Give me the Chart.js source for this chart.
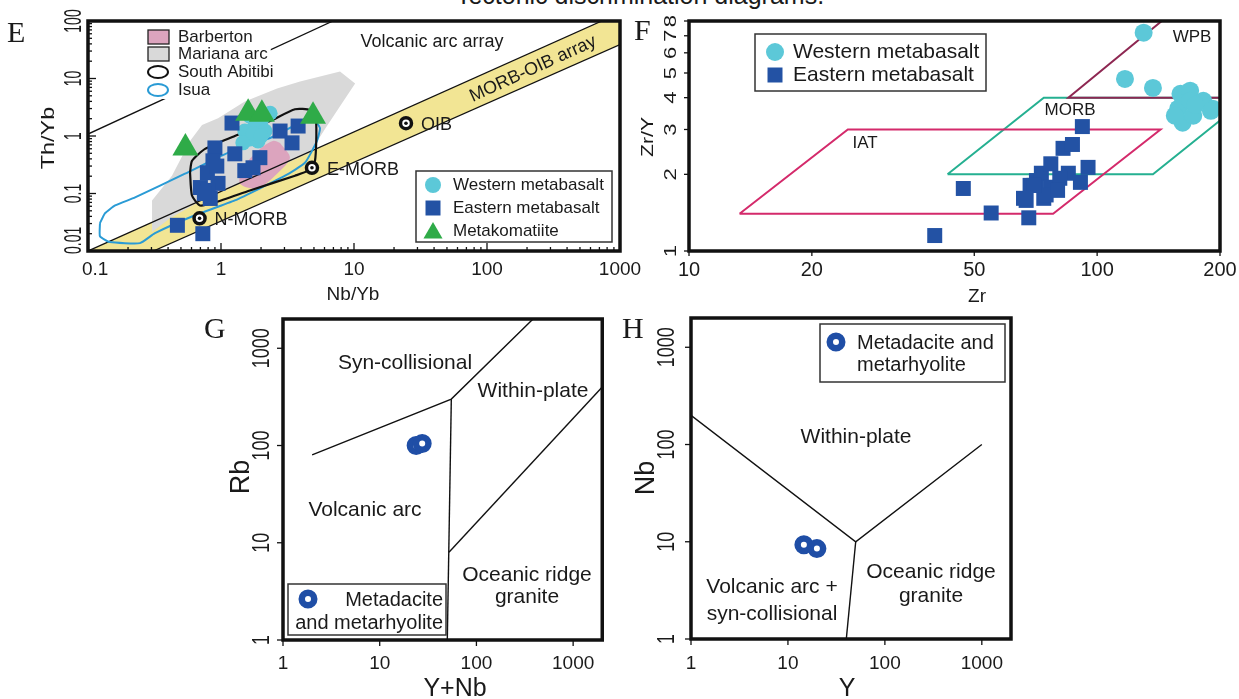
<!DOCTYPE html>
<html>
<head>
<meta charset="utf-8">
<title>Tectonic discrimination diagrams</title>
<script src="https://cdn.jsdelivr.net/npm/chart.js@4.4.1/dist/chart.umd.min.js"></script>
<style>
  html, body { margin: 0; padding: 0; background: #fff; }
  body { width: 1239px; height: 699px; position: relative; overflow: hidden; font-family: "Liberation Sans", Arial, sans-serif; color: #1a1a1a; }
  canvas { position: absolute; }
  .letter { position: absolute; font-family: "Liberation Serif", "Times New Roman", serif; font-size: 30px; line-height: 30px; }
  #title { position: absolute; left: 0; width: 1280px; top: -17px; text-align: center; font-size: 25px; line-height: 25px; }
</style>
</head>
<body>
<div id="title">Tectonic discrimination diagrams.</div>
<canvas id="chartE" width="650" height="310" style="left:0px;top:0px"></canvas>
<canvas id="chartF" width="609" height="310" style="left:630px;top:0px"></canvas>
<canvas id="chartG" width="415" height="394" style="left:200px;top:305px"></canvas>
<canvas id="chartH" width="410" height="394" style="left:615px;top:305px"></canvas>
<div class="letter" style="left:7px;top:17px">E</div>
<div class="letter" style="left:634px;top:15px">F</div>
<div class="letter" style="left:204px;top:313px">G</div>
<div class="letter" style="left:622px;top:313px">H</div>
<script>
const FONT = '"Liberation Sans", Arial, sans-serif';
const CYAN = '#5cc8d8';
const BLUE = '#2352a4';
const GREEN = '#2fab48';
const RING = '#1f4ea6';

// ---------- E : Th/Yb vs Nb/Yb ----------
const eXTicks = [0.1, 1, 10, 100, 1000];
const eXLabels = ['0.1', '1', '10', '100', '1000'];
const eYTicks = [0.01, 0.1, 1, 10, 100];
const eYLabels = ['0.01', '0.1', '1', '10', '100'];
const eWestern = [[1.65, 2.21], [2.03, 1.96], [1.80, 1.49], [1.51, 1.22], [2.14, 1.22], [1.65, 0.89],
  [1.90, 0.82], [1.46, 0.76], [2.34, 2.49], [1.75, 1.10], [2.00, 1.00]];
const eEastern = [[0.47, 0.028], [0.73, 0.020], [1.21, 1.68], [0.90, 0.62], [0.87, 0.37], [0.79, 0.23],
  [0.70, 0.127], [0.95, 0.15], [0.83, 0.082], [0.80, 0.113], [1.27, 0.49], [1.51, 0.25], [1.96, 0.42],
  [1.74, 0.28], [2.78, 1.22], [3.42, 0.76], [3.80, 1.49], [0.93, 0.30], [0.75, 0.10]];
const eKomatiite = [[0.54, 0.62], [1.60, 2.49], [2.03, 2.39], [4.92, 2.21]];
const eRefNames = ['N-MORB', 'E-MORB', 'OIB'];
const eRefNb = [0.69, 4.83, 24.6];
const eRefTh = [0.037, 0.28, 1.67];
const eMorbOib = [[0.1, 0.01], [730, 100], [1000, 100], [1000, 39], [0.31, 0.01]];
const eMorbOibUpper = [[0.1, 0.01], [730, 100]];
const eMorbOibLower = [[0.31, 0.01], [1000, 39]];
const eArcLine = [[0.1, 1.08], [6.95, 100]];
const eMariana = [[0.303, 0.0213], [0.303, 0.0757], [0.428, 0.204], [0.585, 0.82], [0.72, 1.55], [0.95, 2.04],
  [1.51, 4.0], [2.64, 6.73], [3.93, 8.88], [7.85, 13.2], [10.2, 8.2], [7.85, 3.29], [6.05, 1.32], [4.67, 0.51],
  [1.65, 0.177], [0.695, 0.073], [0.414, 0.037]];
const eBarberton = [[2.78, 0.757], [3.30, 0.418], [2.64, 0.221], [1.87, 0.122], [1.39, 0.149], [1.46, 0.281],
  [1.96, 0.597], [2.46, 0.82]];
const eAbitibi = [[0.585, 0.230], [0.605, 0.0924], [0.695, 0.062], [0.90, 0.07], [1.65, 0.113], [3.6, 0.204],
  [4.51, 0.249], [5.09, 0.37], [5.18, 1.82], [4.67, 2.81], [3.6, 2.92], [2.34, 1.82], [1.27, 1.0], [0.759, 0.597],
  [0.605, 0.37]];
const eIsua = [[0.123, 0.0304], [0.123, 0.0181], [0.146, 0.0143], [0.246, 0.0137], [0.319, 0.0204], [0.638, 0.0418],
  [1.27, 0.0757], [3.03, 0.204], [4.28, 0.342], [5.27, 0.82], [5.55, 1.37], [5.09, 1.82], [3.93, 1.68], [2.34, 0.924],
  [1.21, 0.551], [0.536, 0.221], [0.226, 0.0853], [0.16, 0.062], [0.134, 0.0452]];

// ---------- F : Zr/Y vs Zr ----------
const fXTicks = [10, 20, 50, 100, 200];
const fXLabels = ['10', '20', '50', '100', '200'];
const fYTicks = [1, 2, 3, 4, 5, 6, 7, 8];
const fYLabels = ['1', '2', '3', '4', '5', '6', '7', '8'];
const fWestern = [[130, 7.2], [117, 4.74], [137, 4.37], [167, 4.14], [160, 4.14], [169, 4.26], [182, 3.89],
  [192, 3.62], [158, 3.62], [162, 3.19], [169, 3.89], [172, 3.4], [155, 3.4], [190, 3.55], [174, 3.75]];
const fEastern = [[40, 1.15], [47, 1.76], [55, 1.41], [68, 1.35], [67, 1.58], [68.5, 1.81], [71, 1.89], [73, 2.02],
  [77, 2.2], [74, 1.61], [77, 1.78], [85, 2.02], [91, 1.86], [95, 2.13], [82.5, 2.53], [87, 2.62], [92, 3.08],
  [75, 1.66], [70, 1.81], [66, 1.61], [81, 1.93], [80, 1.73]];
const fIAT = [[13.3, 1.4], [24.5, 3.0], [143, 3.0], [78, 1.4]];
const fMORB = [[43, 2], [74, 4], [235, 4], [137, 2]];
const fWPB = [[144, 8], [85, 4], [210, 4]];

// ---------- G : Rb vs Y+Nb ----------
const gTicks = [1, 10, 100, 1000];
const gLabels = ['1', '10', '100', '1000'];
const gSamples = [[23.8, 100], [27.5, 105]];
const gArcUpper = [[2, 80], [55, 300], [385, 2000]];
const gArcRight = [[55, 300], [50, 1]];
const gWithinLower = [[52, 8], [2000, 400]];

// ---------- H : Nb vs Y ----------
const hSamples = [[14.6, 9.3], [19.9, 8.5]];
const hUpper = [[1, 200], [50, 10], [1000, 100]];
const hLower = [[50, 10], [40, 1]];

// helpers
const pts = arr => arr.map(([x, y]) => ({ x, y }));
const closed = arr => pts(arr.concat([arr[0]]));

function points(data, style, r, color, extra) {
  return Object.assign({ type: 'scatter', data: pts(data), pointStyle: style, pointRadius: r, pointHoverRadius: r,
    pointBackgroundColor: color, pointBorderWidth: 0 }, extra || {});
}
function path(data, color, width, extra) {
  return Object.assign({ type: 'line', data: pts(data), borderColor: color, borderWidth: width, pointRadius: 0,
    pointHoverRadius: 0, fill: false, tension: 0 }, extra || {});
}
function outline(data, color, width, tension) {
  return { type: 'line', data: closed(data), borderColor: color, borderWidth: width, pointRadius: 0,
    pointHoverRadius: 0, fill: false, tension: tension || 0 };
}
function area(data, color, tension) {
  return { type: 'line', data: closed(data), borderColor: 'rgba(0,0,0,0)', borderWidth: 0, backgroundColor: color,
    fill: 'shape', pointRadius: 0, pointHoverRadius: 0, tension: tension || 0 };
}
function minors(from, to) {
  const out = [];
  for (let d = from; d < to; d *= 10) for (let k = 2; k <= 9; k++) out.push(d * k);
  return out;
}

function txt(ctx, s, x, y, o) {
  o = o || {};
  ctx.save();
  ctx.translate(x, y);
  if (o.rot) ctx.rotate(o.rot * Math.PI / 180);
  ctx.scale(o.sx || 1, o.sy || 1);
  ctx.font = (o.size || 17) + 'px ' + FONT;
  ctx.fillStyle = o.color || '#1a1a1a';
  ctx.textAlign = o.align || 'center';
  ctx.textBaseline = o.base || 'middle';
  ctx.fillText(s, 0, 0);
  ctx.restore();
}
function mark(ctx, kind, x, y, r, color) {
  ctx.save();
  ctx.beginPath();
  if (kind === 'ring') {
    ctx.arc(x, y, r, 0, Math.PI * 2);
    ctx.fillStyle = '#fff';
    ctx.fill();
    ctx.lineWidth = 6.5;
    ctx.strokeStyle = color;
    ctx.stroke();
    ctx.restore();
    return;
  }
  if (kind === 'circle') ctx.arc(x, y, r, 0, Math.PI * 2);
  if (kind === 'rect') ctx.rect(x - r, y - r, 2 * r, 2 * r);
  if (kind === 'triangle') {
    ctx.moveTo(x, y - r);
    ctx.lineTo(x + r * 0.866, y + r / 2);
    ctx.lineTo(x - r * 0.866, y + r / 2);
    ctx.closePath();
  }
  ctx.fillStyle = color;
  ctx.fill();
  ctx.restore();
}
function box(ctx, x1, y1, x2, y2) {
  ctx.save();
  ctx.fillStyle = '#fff';
  ctx.fillRect(x1, y1, x2 - x1, y2 - y1);
  ctx.strokeStyle = '#333';
  ctx.lineWidth = 1.5;
  ctx.strokeRect(x1, y1, x2 - x1, y2 - y1);
  ctx.restore();
}

// frame, ticks, tick labels, titles and notes; page coords are shifted by the canvas offset
function decor(p) {
  return {
    id: 'decor',
    afterDatasetsDraw(chart) {
      const ctx = chart.ctx, a = chart.chartArea;
      const xs = chart.scales.x, ys = chart.scales.y;
      const dir = p.tickDir === 'in' ? -1 : 1;
      ctx.save();
      ctx.strokeStyle = '#111';
      ctx.lineWidth = 1.3;
      const tick = (v, len, isX) => {
        ctx.beginPath();
        if (isX) {
          const px = xs.getPixelForValue(v);
          ctx.moveTo(px, a.bottom);
          ctx.lineTo(px, a.bottom + dir * len);
        } else {
          const py = ys.getPixelForValue(v);
          ctx.moveTo(a.left, py);
          ctx.lineTo(a.left - dir * len, py);
        }
        ctx.stroke();
      };
      p.xTicks.forEach(v => tick(v, p.tickLen, true));
      p.yTicks.forEach(v => tick(v, p.tickLen, false));
      (p.xMinor || []).forEach(v => tick(v, p.minorLen, true));
      (p.yMinor || []).forEach(v => tick(v, p.minorLen, false));
      ctx.lineWidth = p.frame;
      ctx.strokeRect(a.left, a.top, a.right - a.left, a.bottom - a.top);
      ctx.restore();

      p.xTicks.forEach((v, i) => {
        let px = xs.getPixelForValue(v);
        ctx.font = p.xSize + 'px ' + FONT;
        const w = ctx.measureText(p.xLabels[i]).width;
        if (p.clampX != null) px = Math.max(px, a.left - p.clampX + w / 2);
        txt(ctx, p.xLabels[i], px, p.xLabelY - p.top, { size: p.xSize });
      });
      p.yTicks.forEach((v, i) => {
        let py = ys.getPixelForValue(v);
        ctx.font = p.ySize + 'px ' + FONT;
        const w = ctx.measureText(p.yLabels[i]).width * (p.ySx || 1);
        if (p.clampY != null) py = Math.min(py, a.bottom + p.clampY - w / 2);
        txt(ctx, p.yLabels[i], p.yLabelX - p.left, py, { size: p.ySize, rot: -90, sx: p.ySx, sy: p.ySy });
      });

      ctx.save();
      ctx.translate(-p.left, -p.top);
      const xt = p.xTitle, yt = p.yTitle;
      txt(ctx, xt.text, xt.x, xt.y, { size: xt.size, base: xt.base || 'middle' });
      txt(ctx, yt.text, yt.x, yt.y, { size: yt.size, rot: -90, sx: yt.sx, sy: yt.sy });
      (p.notes || []).forEach(n => txt(ctx, n.text, n.x, n.y, n));
      if (p.extraPage) p.extraPage(ctx);
      ctx.restore();
      if (p.extra) p.extra(ctx, chart);
    }
  };
}

function makeChart(id, pad, xr, yr, datasets, deco) {
  return new Chart(document.getElementById(id), {
    type: 'scatter',
    data: { datasets },
    options: {
      responsive: false,
      animation: false,
      events: [],
      layout: { padding: pad },
      plugins: { legend: { display: false }, tooltip: { enabled: false } },
      scales: {
        x: { type: 'logarithmic', min: xr[0], max: xr[1], display: false },
        y: { type: 'logarithmic', min: yr[0], max: yr[1], display: false }
      }
    },
    plugins: [decor(deco)]
  });
}

// ---------- panel E ----------
makeChart('chartE', { left: 88, top: 21, right: 30, bottom: 59 }, [0.1, 1000], [0.01, 100], [
  points(eKomatiite, 'triangle', 15, GREEN),
  points(eEastern, 'rect', 10.6, BLUE),
  points(eWestern, 'circle', 7.5, CYAN),
  points(eRefNb.map((x, i) => [x, eRefTh[i]]), 'circle', 1.8, '#111'),
  points(eRefNb.map((x, i) => [x, eRefTh[i]]), 'circle', 5.5, '#fff', { pointBorderWidth: 3.5, pointBorderColor: '#111' }),
  outline(eAbitibi, '#111', 2.2, 0.2),
  outline(eIsua, '#2a9bd5', 2, 0.15),
  path(eMorbOibUpper, '#111', 1.3),
  path(eMorbOibLower, '#111', 1.3),
  path(eArcLine, '#111', 1.3),
  area(eBarberton, '#dca4be', 0.3),
  area(eMariana, '#d9d9d9', 0),
  area(eMorbOib, '#f2e594', 0)
], {
  left: 0, top: 0, frame: 3.5, tickDir: 'in', tickLen: 8, minorLen: 4,
  xTicks: eXTicks, xLabels: eXLabels, yTicks: eYTicks, yLabels: eYLabels,
  xMinor: minors(0.1, 1000), yMinor: minors(0.01, 100),
  xSize: 19, xLabelY: 270, clampX: 6,
  ySize: 14, ySy: 1.75, yLabelX: 74, clampY: 3,
  xTitle: { text: 'Nb/Yb', x: 353, y: 295, size: 19 },
  yTitle: { text: 'Th/Yb', x: 49, y: 138, size: 18, sx: 1.3 },
  notes: [
    { text: 'Volcanic arc array', x: 432, y: 42, size: 18 },
    { text: 'MORB-OIB array', x: 533, y: 69, size: 18, rot: -24.5 }
  ],
  extra(ctx, chart) {
    const xs = chart.scales.x, ys = chart.scales.y;
    eRefNames.forEach((n, i) => {
      txt(ctx, n, xs.getPixelForValue(eRefNb[i]) + 15, ys.getPixelForValue(eRefTh[i]) + 2, { size: 18, align: 'left' });
    });
    // upper-left legend (white text boxes hide the arc line)
    const rows = [['Barberton', 37], ['Mariana arc', 54], ['South Abitibi', 72], ['Isua', 90]];
    ctx.font = '17px ' + FONT;
    rows.forEach(([t, y]) => {
      const w = ctx.measureText(t).width;
      ctx.fillStyle = '#fff';
      ctx.fillRect(144, y - 9, 178 + w + 3 - 144, 18);
    });
    ctx.save();
    ctx.lineWidth = 1.3;
    ctx.strokeStyle = '#222';
    ctx.fillStyle = '#dca4be';
    ctx.fillRect(148, 30, 21, 14); ctx.strokeRect(148, 30, 21, 14);
    ctx.fillStyle = '#d9d9d9';
    ctx.fillRect(148, 47, 21, 14); ctx.strokeRect(148, 47, 21, 14);
    ctx.lineWidth = 2;
    ctx.strokeStyle = '#111';
    ctx.beginPath(); ctx.ellipse(158, 72, 10, 6, 0, 0, Math.PI * 2); ctx.stroke();
    ctx.strokeStyle = '#2a9bd5';
    ctx.beginPath(); ctx.ellipse(158, 90, 10, 6, 0, 0, Math.PI * 2); ctx.stroke();
    ctx.restore();
    rows.forEach(([t, y]) => txt(ctx, t, 178, y, { size: 17, align: 'left' }));
    // lower-right legend
    box(ctx, 416, 171, 612, 242);
    mark(ctx, 'circle', 433, 185, 8, CYAN);
    mark(ctx, 'rect', 433, 208, 7.5, BLUE);
    mark(ctx, 'triangle', 433, 233, 11, GREEN);
    txt(ctx, 'Western metabasalt', 453, 185, { size: 17, align: 'left' });
    txt(ctx, 'Eastern metabasalt', 453, 208, { size: 17, align: 'left' });
    txt(ctx, 'Metakomatiite', 453, 231, { size: 17, align: 'left' });
  }
});

// ---------- panel F ----------
makeChart('chartF', { left: 59, top: 21, right: 19, bottom: 59 }, [10, 200], [1, 8], [
  points(fWestern, 'circle', 9, CYAN),
  points(fEastern, 'rect', 10.6, BLUE),
  outline(fIAT, '#d42a6b', 2),
  path(fWPB, '#8e2752', 2),
  outline(fMORB, '#25b091', 2)
], {
  left: 630, top: 0, frame: 3.5, tickDir: 'out', tickLen: 5,
  xTicks: fXTicks, xLabels: fXLabels, yTicks: fYTicks, yLabels: fYLabels,
  xSize: 20, xLabelY: 270,
  ySize: 17, ySx: 1.3, yLabelX: 671,
  xTitle: { text: 'Zr', x: 977, y: 297, size: 19 },
  yTitle: { text: 'Zr/Y', x: 648, y: 137, size: 17, sx: 1.25 },
  notes: [
    { text: 'IAT', x: 865, y: 143, size: 17 },
    { text: 'MORB', x: 1070, y: 110, size: 17 },
    { text: 'WPB', x: 1192, y: 37, size: 17 }
  ],
  extraPage(ctx) {
    box(ctx, 755, 34, 986, 91);
    mark(ctx, 'circle', 775, 52, 9, CYAN);
    mark(ctx, 'rect', 775, 75, 7.5, BLUE);
    txt(ctx, 'Western metabasalt', 793, 52, { size: 21, align: 'left' });
    txt(ctx, 'Eastern metabasalt', 793, 75, { size: 21, align: 'left' });
  }
});

// ---------- panel G ----------
makeChart('chartG', { left: 83, top: 14, right: 10, bottom: 59 }, [1, 2000], [1, 2000], [
  points(gSamples, 'circle', 6.25, '#fff', { pointBorderWidth: 6.5, pointBorderColor: RING }),
  path(gArcUpper, '#111', 1.4),
  path(gArcRight, '#111', 1.4),
  path(gWithinLower, '#111', 1.4)
], {
  left: 200, top: 305, frame: 3.5, tickDir: 'out', tickLen: 6,
  xTicks: gTicks, xLabels: gLabels, yTicks: gTicks, yLabels: gLabels,
  xSize: 19, xLabelY: 664,
  ySize: 18, ySy: 1.3, yLabelX: 263,
  xTitle: { text: 'Y+Nb', x: 455, y: 696, size: 25, base: 'alphabetic' },
  yTitle: { text: 'Rb', x: 242, y: 477, size: 27 },
  notes: [
    { text: 'Syn-collisional', x: 405, y: 363, size: 21 },
    { text: 'Within-plate', x: 533, y: 391, size: 21 },
    { text: 'Volcanic arc', x: 365, y: 510, size: 21 },
    { text: 'Oceanic ridge', x: 527, y: 575, size: 21 },
    { text: 'granite', x: 527, y: 597, size: 21 }
  ],
  extraPage(ctx) {
    box(ctx, 288, 584, 446, 635);
    mark(ctx, 'ring', 308, 599, 6.25, RING);
    txt(ctx, 'Metadacite', 443, 600, { size: 20, align: 'right' });
    txt(ctx, 'and metarhyolite', 443, 623, { size: 20, align: 'right' });
  }
});

// ---------- panel H ----------
makeChart('chartH', { left: 76, top: 13, right: 14, bottom: 60 }, [1, 2000], [1, 2000], [
  points(hSamples, 'circle', 6.25, '#fff', { pointBorderWidth: 6.5, pointBorderColor: RING }),
  path(hUpper, '#111', 1.4),
  path(hLower, '#111', 1.4)
], {
  left: 615, top: 305, frame: 3.5, tickDir: 'out', tickLen: 6,
  xTicks: gTicks, xLabels: gLabels, yTicks: gTicks, yLabels: gLabels,
  xSize: 19, xLabelY: 664,
  ySize: 18, ySy: 1.3, yLabelX: 668,
  xTitle: { text: 'Y', x: 847, y: 696, size: 25, base: 'alphabetic' },
  yTitle: { text: 'Nb', x: 647, y: 478, size: 27 },
  notes: [
    { text: 'Within-plate', x: 856, y: 437, size: 21 },
    { text: 'Volcanic arc +', x: 772, y: 587, size: 21 },
    { text: 'syn-collisional', x: 772, y: 614, size: 21 },
    { text: 'Oceanic ridge', x: 931, y: 572, size: 21 },
    { text: 'granite', x: 931, y: 596, size: 21 }
  ],
  extraPage(ctx) {
    box(ctx, 820, 324, 1005, 382);
    mark(ctx, 'ring', 836, 342, 6.25, RING);
    txt(ctx, 'Metadacite and', 857, 343, { size: 20, align: 'left' });
    txt(ctx, 'metarhyolite', 857, 365, { size: 20, align: 'left' });
  }
});
</script>
</body>
</html>
